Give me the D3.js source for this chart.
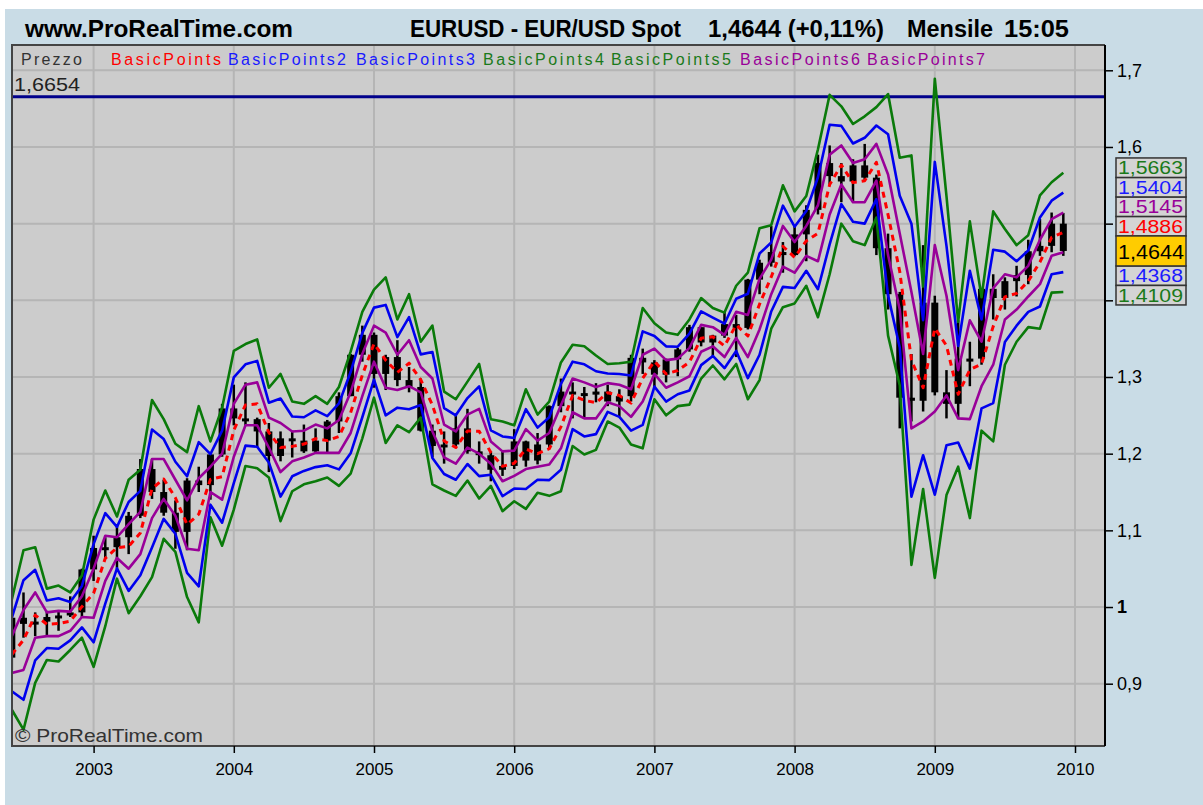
<!DOCTYPE html>
<html><head><meta charset="utf-8">
<script src="https://cdn.jsdelivr.net/npm/d3@7"></script>
<style>
html,body{margin:0;padding:0;background:#fff;}
svg{display:block;font-family:"Liberation Sans",Arial,sans-serif;}
</style>
</head><body>
<svg id="c" width="1203" height="805"></svg>
<script>
// ---------- DATA (monthly EUR/USD) ----------
const months = ["2002-05","2002-06","2002-07","2002-08","2002-09","2002-10","2002-11","2002-12",
"2003-01","2003-02","2003-03","2003-04","2003-05","2003-06","2003-07","2003-08","2003-09","2003-10","2003-11","2003-12",
"2004-01","2004-02","2004-03","2004-04","2004-05","2004-06","2004-07","2004-08","2004-09","2004-10","2004-11","2004-12",
"2005-01","2005-02","2005-03","2005-04","2005-05","2005-06","2005-07","2005-08","2005-09","2005-10","2005-11","2005-12",
"2006-01","2006-02","2006-03","2006-04","2006-05","2006-06","2006-07","2006-08","2006-09","2006-10","2006-11","2006-12",
"2007-01","2007-02","2007-03","2007-04","2007-05","2007-06","2007-07","2007-08","2007-09","2007-10","2007-11","2007-12",
"2008-01","2008-02","2008-03","2008-04","2008-05","2008-06","2008-07","2008-08","2008-09","2008-10","2008-11","2008-12",
"2009-01","2009-02","2009-03","2009-04","2009-05","2009-06","2009-07","2009-08","2009-09","2009-10","2009-11","2009-12"];
const open = [0.9160,0.9340,0.9860,0.9780,0.9810,0.9870,0.9890,0.9930,
1.0490,1.0770,1.0780,1.0910,1.1190,1.1800,1.1500,1.1230,1.0980,1.1650,1.1590,1.1990,
1.2590,1.2460,1.2450,1.2290,1.1970,1.2200,1.2170,1.2030,1.2170,1.2420,1.2750,1.3290,
1.3550,1.3040,1.3260,1.2960,1.2870,1.2300,1.2100,1.2120,1.2330,1.2030,1.1980,1.1790,
1.1840,1.2160,1.1910,1.2120,1.2620,1.2810,1.2790,1.2770,1.2810,1.2680,1.2750,1.3250,
1.3190,1.3030,1.3230,1.3360,1.3650,1.3450,1.3540,1.3690,1.3640,1.4270,1.4490,1.4630,
1.4590,1.4860,1.5180,1.5790,1.5620,1.5550,1.5760,1.5600,1.4680,1.4080,1.2730,1.2690,
1.3970,1.2800,1.2650,1.3240,1.3240,1.4150,1.4030,1.4250,1.4330,1.4640,1.4710,1.5000];
const high = [0.9620,0.9960,1.0190,0.9930,0.9950,0.9940,1.0140,1.0500,
1.0930,1.0910,1.1080,1.1240,1.1930,1.1930,1.1660,1.1390,1.1680,1.1830,1.2000,1.2650,
1.2900,1.2930,1.2470,1.2400,1.2290,1.2300,1.2380,1.2330,1.2440,1.2800,1.3300,1.3670,
1.3580,1.3290,1.3480,1.3130,1.2980,1.2380,1.2290,1.2510,1.2585,1.2160,1.2030,1.2040,
1.2320,1.2170,1.2270,1.2630,1.2980,1.2930,1.2870,1.2920,1.2900,1.2840,1.3290,1.3370,
1.3220,1.3240,1.3380,1.3680,1.3650,1.3550,1.3850,1.3810,1.4280,1.4530,1.4970,1.4760,
1.4970,1.5240,1.5900,1.6020,1.5790,1.5840,1.6040,1.5640,1.4870,1.4110,1.3300,1.4720,
1.4060,1.3090,1.3740,1.3460,1.4160,1.4340,1.4300,1.4450,1.4790,1.5060,1.5145,1.5140];
const low = [0.9140,0.9180,0.9600,0.9620,0.9620,0.9690,0.9870,0.9860,
1.0340,1.0640,1.0500,1.0690,1.1160,1.1410,1.1190,1.0760,1.0740,1.1500,1.1400,1.1960,
1.2370,1.2370,1.2080,1.1760,1.1900,1.1950,1.2010,1.2010,1.2010,1.2270,1.2750,1.3200,
1.2860,1.2830,1.2880,1.2800,1.2290,1.1950,1.1870,1.2080,1.2000,1.1870,1.1640,1.1710,
1.1800,1.1830,1.1860,1.2070,1.2540,1.2460,1.2460,1.2670,1.2620,1.2480,1.2680,1.3040,
1.2860,1.2930,1.3010,1.3330,1.3400,1.3260,1.3510,1.3260,1.3620,1.4080,1.4440,1.4360,
1.4580,1.4510,1.5120,1.5510,1.5280,1.5280,1.5560,1.4590,1.3880,1.2330,1.2420,1.2550,
1.2760,1.2460,1.2450,1.2880,1.3160,1.3750,1.3880,1.4050,1.4210,1.4580,1.4627,1.4580];
const close = [0.9340,0.9860,0.9780,0.9810,0.9870,0.9890,0.9930,1.0490,
1.0770,1.0780,1.0910,1.1190,1.1800,1.1500,1.1230,1.0980,1.1650,1.1590,1.1990,1.2590,
1.2460,1.2450,1.2290,1.1970,1.2200,1.2170,1.2030,1.2170,1.2420,1.2750,1.3290,1.3550,
1.3040,1.3260,1.2960,1.2870,1.2300,1.2100,1.2120,1.2330,1.2030,1.1980,1.1790,1.1840,
1.2160,1.1910,1.2120,1.2620,1.2810,1.2790,1.2770,1.2810,1.2680,1.2750,1.3250,1.3190,
1.3030,1.3230,1.3360,1.3650,1.3450,1.3540,1.3690,1.3640,1.4270,1.4490,1.4630,1.4590,
1.4860,1.5180,1.5790,1.5620,1.5550,1.5760,1.5600,1.4680,1.4080,1.2730,1.2690,1.3970,
1.2800,1.2650,1.3240,1.3240,1.4150,1.4030,1.4250,1.4330,1.4640,1.4710,1.5000,1.4644];

// indicator definitions: offset from previous month's mid-range, in units of previous range
const seriesNames = ["BasicPoints","BasicPoints2","BasicPoints3","BasicPoints4","BasicPoints5","BasicPoints6","BasicPoints7"];
const seriesColors = ["#ff0000","#0000ee","#0000ee","#0a7a0a","#0a7a0a","#990099","#990099"];
const seriesMult = [0, 1, -1, 1.5, -1.5, 0.5, -0.5];

const yTicks = [0.9,1.0,1.1,1.2,1.3,1.4,1.5,1.6,1.7];
const yearTicks = [2003,2004,2005,2006,2007,2008,2009,2010];
const refLevel = [1.6654];
const titleLeft = "www.ProRealTime.com";
const titleParts = ["EURUSD - EUR/USD Spot","1,4644 (+0,11%)","Mensile","15:05"];

// ---------- LAYOUT ----------
const svg = d3.select("#c");
const P = {l:12, r:1105, t:45, b:746};
const monthIndex = (y,m) => (y-2002)*12 + (m-5);
const x = d3.scaleLinear().domain([monthIndex(2003,1), monthIndex(2010,1)]).range([93.6, 1075]);
const y = d3.scaleLinear().domain([0.9,1.7]).range([683.7, 70.3]);
const fmt = v => d3.format(".4f")(v).replace(".", ",");
const txtColor = c => c==="#0000ee" ? "#1a1aff" : c==="#0a7a0a" ? "#1a7a1a" : c;

svg.append("rect").attr("x",5).attr("y",9).attr("width",1198).attr("height",796).attr("fill","#c9dce6");
svg.append("rect").attr("x",P.l).attr("y",P.t).attr("width",P.r-P.l).attr("height",P.b-P.t).attr("fill","#cccccc");

svg.append("defs").append("clipPath").attr("id","pc").append("rect")
  .attr("x",P.l).attr("y",P.t).attr("width",P.r-P.l).attr("height",P.b-P.t);

// grid
const grid = svg.append("g").attr("clip-path","url(#pc)");
grid.selectAll("line.v").data(yearTicks).join("line")
  .attr("x1",d=>x(monthIndex(d,1))).attr("x2",d=>x(monthIndex(d,1)))
  .attr("y1",P.t).attr("y2",P.b).attr("stroke","#b5b5b5").attr("stroke-width",2);
grid.selectAll("line.h").data(yTicks).join("line")
  .attr("x1",P.l).attr("x2",P.r).attr("y1",d=>y(d)).attr("y2",d=>y(d))
  .attr("stroke","#b5b5b5").attr("stroke-width",2);

const plot = svg.append("g").attr("clip-path","url(#pc)");

// reference line
plot.selectAll("line.ref").data(refLevel).join("line")
  .attr("x1",P.l).attr("x2",P.r).attr("y1",d=>y(d)).attr("y2",d=>y(d))
  .attr("stroke","#00008b").attr("stroke-width",3);

// candles
const idx = d3.range(months.length);
const cg = plot.append("g");
cg.selectAll("line.w").data(idx).join("line")
  .attr("x1",i=>x(i)).attr("x2",i=>x(i)).attr("y1",i=>y(high[i])).attr("y2",i=>y(low[i]))
  .attr("stroke","#000").attr("stroke-width",2.5);
cg.selectAll("rect.b").data(idx).join("rect")
  .attr("x",i=>x(i)-3.5).attr("width",7)
  .attr("y",i=>y(Math.max(open[i],close[i])))
  .attr("height",i=>Math.max(3, Math.abs(y(open[i])-y(close[i]))))
  .attr("fill","#000");

// bands (pivot levels computed from the previous month)
const bandIdx = idx.slice(1);
const bandVal = (k,i) => (high[i-1]+low[i-1])/2 + seriesMult[k]*(high[i-1]-low[i-1]);
const drawOrder = [3,4,1,2,5,6,0];
drawOrder.forEach(k=>{
  const line = d3.line().x(i=>x(i)).y(i=>y(bandVal(k,i)));
  plot.append("path").datum(bandIdx).attr("d",line).attr("fill","none")
    .attr("stroke",seriesColors[k]).attr("stroke-width",k===0?3:2.6)
    .attr("stroke-dasharray",k===0?"6,5":null).attr("stroke-linejoin","round");
});

// plot border
svg.append("path").attr("d",`M${P.r},${P.t}H${P.l}V${P.b}H${P.r}`).attr("fill","none")
  .attr("stroke","#444").attr("stroke-width",2);
svg.append("line").attr("x1",P.r).attr("x2",P.r).attr("y1",P.t).attr("y2",P.b).attr("stroke","#000").attr("stroke-width",2);

// value-label stack geometry (right side), used to hide tick labels that sit behind it
const last = months.length-1;
const lastClose = close[last];
const yc = y(lastClose);
const priceTop = yc-15, priceBot = yc+15;
const vals = [0,1,2,3,4,5,6].map(k=>({k, v:+bandVal(k,last).toFixed(4)}));
const above = vals.filter(d=>d.v>lastClose).sort((a,b)=>a.v-b.v);
const below = vals.filter(d=>d.v<lastClose && Math.abs(y(d.v)-yc)>12).sort((a,b)=>b.v-a.v);
const boxH = 19.5;
above.forEach((d,j)=>{ d.top = priceTop - boxH*(j+1); });
below.forEach((d,j)=>{ d.top = priceBot + boxH*j; });
const stackTop = priceTop - boxH*above.length, stackBot = priceBot + boxH*below.length;

// axes
const xAxis = d3.axisBottom(x).tickValues(yearTicks.map(d=>monthIndex(d,1))).tickFormat(i=>2002+Math.floor((i+4)/12)).tickSize(7).tickPadding(10);
const gx = svg.append("g").attr("transform",`translate(0,${P.b})`).call(xAxis);
gx.select(".domain").remove();
gx.selectAll("line").attr("stroke","#000").attr("stroke-width",1.5);
gx.selectAll("text").attr("font-size",17).attr("font-family","Liberation Sans, Arial, sans-serif").attr("fill","#000");

const yAxis = d3.axisRight(y).tickValues(yTicks).tickFormat(v=>v===1?"1":d3.format(".1f")(v).replace(".",",")).tickSize(8).tickPadding(4);
const gy = svg.append("g").attr("transform",`translate(${P.r},0)`).call(yAxis);
gy.select(".domain").remove();
gy.selectAll("line").attr("stroke","#000").attr("stroke-width",1.5);
gy.selectAll("text").attr("font-size",18).attr("font-family","Liberation Sans, Arial, sans-serif").attr("fill","#000")
  .attr("font-weight",v=>v===1?"bold":"normal");
// labels covered by the value boxes (as in the reference)
gy.selectAll(".tick").filter(v=>y(v)>stackTop-8 && y(v)<stackBot+8).select("text").remove();

// header
svg.append("text").attr("x",25).attr("y",37).attr("font-size",24).attr("font-weight","bold")
  .attr("textLength",268).attr("lengthAdjust","spacingAndGlyphs").text(titleLeft);
const tpX = [410,708,907,1004], tpW = [271,176,86,65];
titleParts.forEach((t,i)=>svg.append("text").attr("x",tpX[i]).attr("y",37).attr("font-size",23).attr("font-weight","bold")
  .attr("textLength",tpW[i]).attr("lengthAdjust","spacingAndGlyphs").text(t));

// legend
svg.append("text").attr("x",21).attr("y",65).attr("font-size",16).attr("fill","#333")
  .attr("textLength",61).attr("lengthAdjust","spacing").text("Prezzo");
const lgX = [111,228,356,483,611,740,867], lgW = [110,118,119,121,120,120,118];
seriesNames.forEach((s,i)=>svg.append("text").attr("x",lgX[i]).attr("y",65).attr("font-size",16)
  .attr("fill",txtColor(seriesColors[i])).attr("textLength",lgW[i]).attr("lengthAdjust","spacing").text(s));
svg.append("text").attr("x",14).attr("y",91).attr("font-size",18).attr("fill","#222")
  .attr("textLength",66).attr("lengthAdjust","spacingAndGlyphs").text(fmt(refLevel[0]));

svg.append("text").attr("x",15).attr("y",742).attr("font-size",19).attr("fill","#333")
  .attr("textLength",188).attr("lengthAdjust","spacingAndGlyphs").text("\u00A9 ProRealTime.com");

// value labels
const lg = svg.append("g");
above.concat(below).forEach(d=>{
  lg.append("rect").attr("x",1116).attr("y",d.top).attr("width",70).attr("height",boxH)
    .attr("fill","#d4d4d4").attr("stroke","#333").attr("stroke-width",1.5);
  lg.append("text").attr("x",1118).attr("y",d.top+boxH-3).attr("font-size",18)
    .attr("textLength",65).attr("lengthAdjust","spacingAndGlyphs")
    .attr("fill",txtColor(seriesColors[d.k])).text(fmt(d.v));
});
lg.append("rect").attr("x",1116).attr("y",priceTop).attr("width",70).attr("height",30)
  .attr("fill","#ffcc00").attr("stroke","#333").attr("stroke-width",1.5);
lg.append("text").attr("x",1118).attr("y",yc+8).attr("font-size",21).attr("fill","#000")
  .attr("textLength",66).attr("lengthAdjust","spacingAndGlyphs").text(fmt(lastClose));
</script>
</body></html>
